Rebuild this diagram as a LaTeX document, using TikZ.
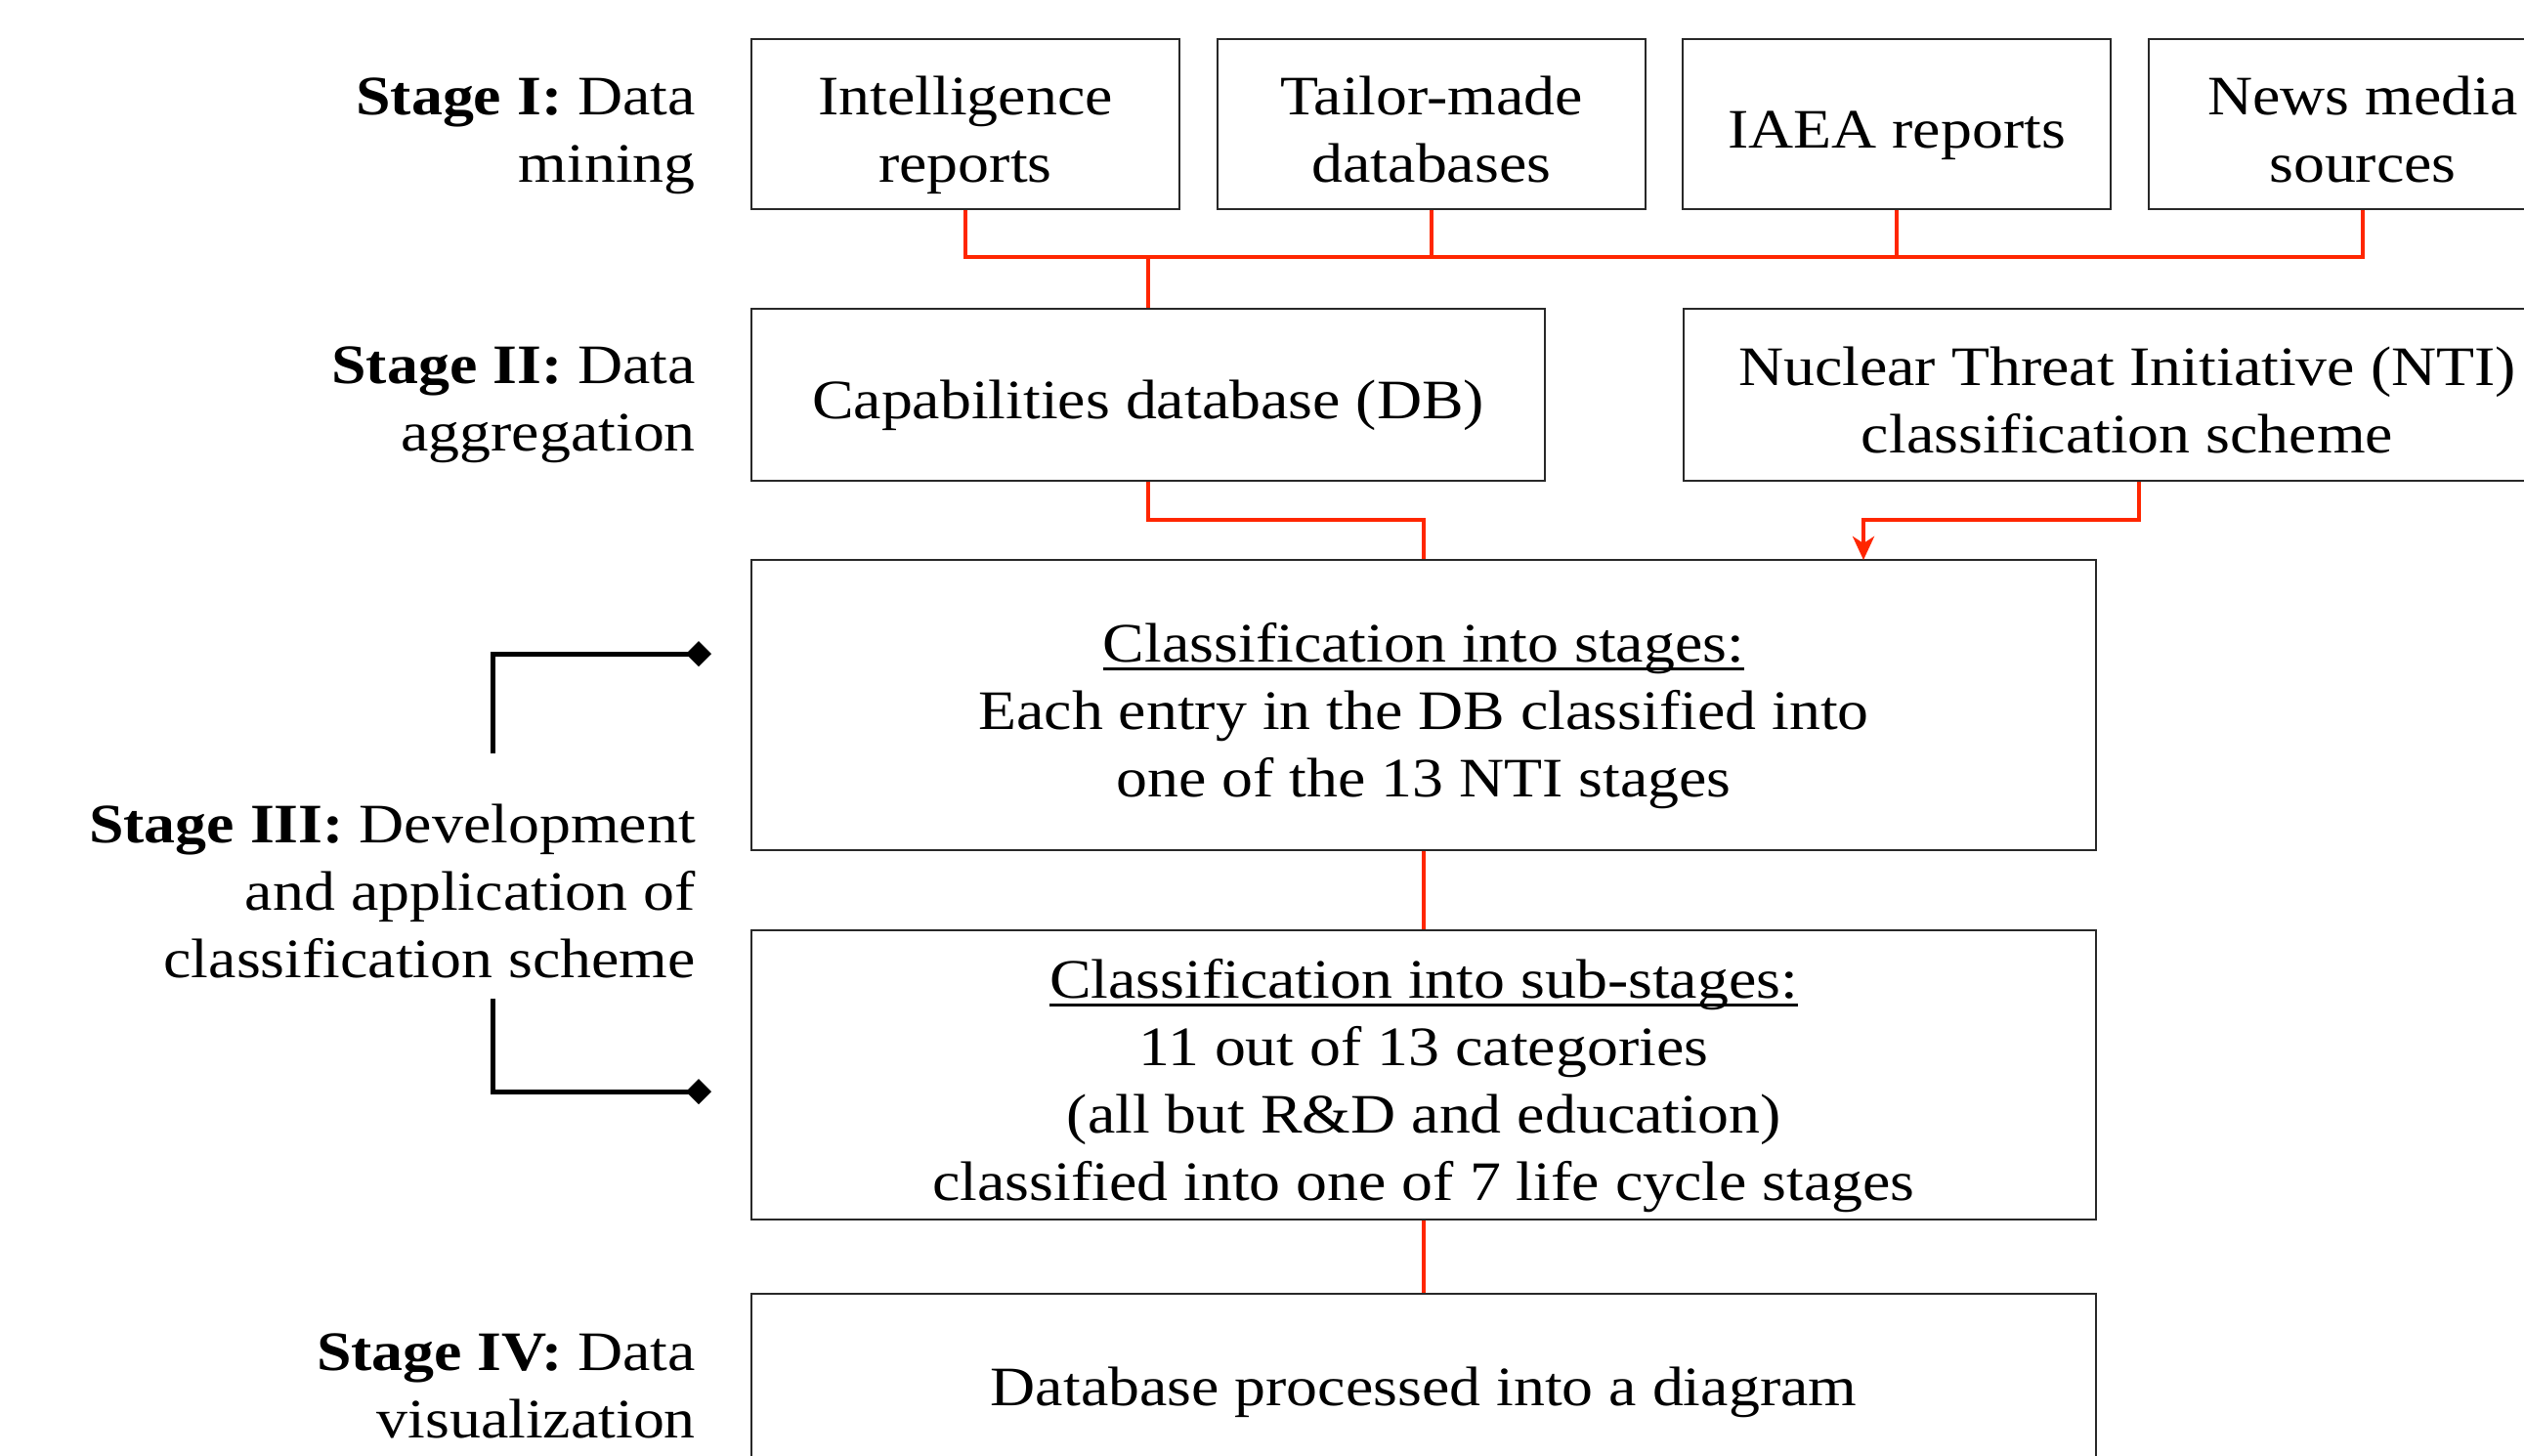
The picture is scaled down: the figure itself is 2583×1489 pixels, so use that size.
\documentclass[tikz,border=0pt]{standalone}
\usepackage{fontspec}
\setmainfont{Liberation Serif}[FakeStretch=1.12]
\usetikzlibrary{arrows.meta}
\definecolor{linkred}{RGB}{255,38,0}
\definecolor{boxgray}{RGB}{40,40,40}
\newcommand\myul[1]{\leavevmode\setbox0=\hbox{#1}\rlap{\rule[-9pt]{\wd0}{3pt}}\box0}
\newcommand\btext[2][-11pt]{\raisebox{#1}[\height][\depth]{\begin{tabular}{@{}c@{}}#2\end{tabular}}}
\begin{document}
\begin{tikzpicture}[x=1pt,y=-1pt,
  every node/.style={font=\fontsize{57}{69}\selectfont},
  box/.style={draw=boxgray,line width=2.5pt,inner sep=0pt},
  topbox/.style={box,minimum width=438pt,minimum height=174pt},
  stagelabel/.style={anchor=east,align=right,inner sep=0pt},
  redline/.style={draw=linkred,line width=4pt},
  bracket/.style={draw=black,line width=5pt,-{Diamond[length=26pt,width=26pt]}}]
\useasboundingbox (0,0) rectangle (2583,1489);

% Stage I sources
\node[topbox] (i1) at (988,127) {\btext{Intelligence\\reports}};
\node[topbox] (i2) at (1465,127) {\btext{Tailor-made\\databases}};
\node[topbox] (i3) at (1941,127) {\btext{IAEA reports}};
\node[topbox] (i4) at (2418,127) {\btext{News media\\sources}};

% Stage II
\node[box,minimum width=812pt,minimum height=176pt] (cap) at (1175,404) {\btext{Capabilities database (DB)}};
\node[box,minimum width=908pt,minimum height=176pt] (nti) at (2177,404) {\btext{Nuclear Threat Initiative (NTI)\\classification scheme}};

% Stage III
\node[box,minimum width=1376pt,minimum height=297pt] (cls1) at (1457,721.5)
  {\btext{\myul{Classification into stages:}\\Each entry in the DB classified into\\one of the 13 NTI stages}};
\node[box,minimum width=1376pt,minimum height=296pt] (cls2) at (1457,1100)
  {\btext{\myul{Classification into sub-stages:}\\11 out of 13 categories\\(all but R\&D and education)\\classified into one of 7 life cycle stages}};

% Stage IV
\node[box,minimum width=1376pt,minimum height=192pt] (cls3) at (1457,1420) {\btext[-5pt]{Database processed into a diagram}};

% Stage labels
\node[stagelabel] (s1) at (712,139) {\textbf{Stage I:} Data\\mining};
\node[stagelabel] (s2) at (712,414) {\textbf{Stage II:} Data\\aggregation};
\node[stagelabel] (s3) at (712,912) {\textbf{Stage III:} Development\\and application of\\classification scheme};
\node[stagelabel] (s4) at (712,1418) {\textbf{Stage IV:} Data\\visualization};

% Red connectors
\coordinate (bus) at (1175,263);
\draw[redline] (i1.south) |- (bus) -| (i4.south);
\draw[redline] (i2.south) -- (i2.south |- bus);
\draw[redline] (i3.south) -- (i3.south |- bus);
\draw[redline] (bus) -- (cap.north);

\coordinate (mid) at (1457,532);
\coordinate (ntiin) at (1907,573);
\draw[redline] (cap.south) |- (mid) -- (cls1.north);
\draw[redline,-{Stealth[length=24pt,width=22pt,inset=7pt]}] ([xshift=12pt]nti.south) |- (mid -| ntiin) -- (ntiin);
\draw[redline] (cls1.south) -- (cls2.north);
\draw[redline] (cls2.south) -- (cls3.north);

% Brackets
\coordinate (b1s) at (504,771);
\coordinate (b1e) at (728,669);
\draw[bracket] (b1s) |- (b1e);
\coordinate (b2s) at (504,1022);
\coordinate (b2e) at (728,1117);
\draw[bracket] (b2s) |- (b2e);
\end{tikzpicture}
\end{document}
